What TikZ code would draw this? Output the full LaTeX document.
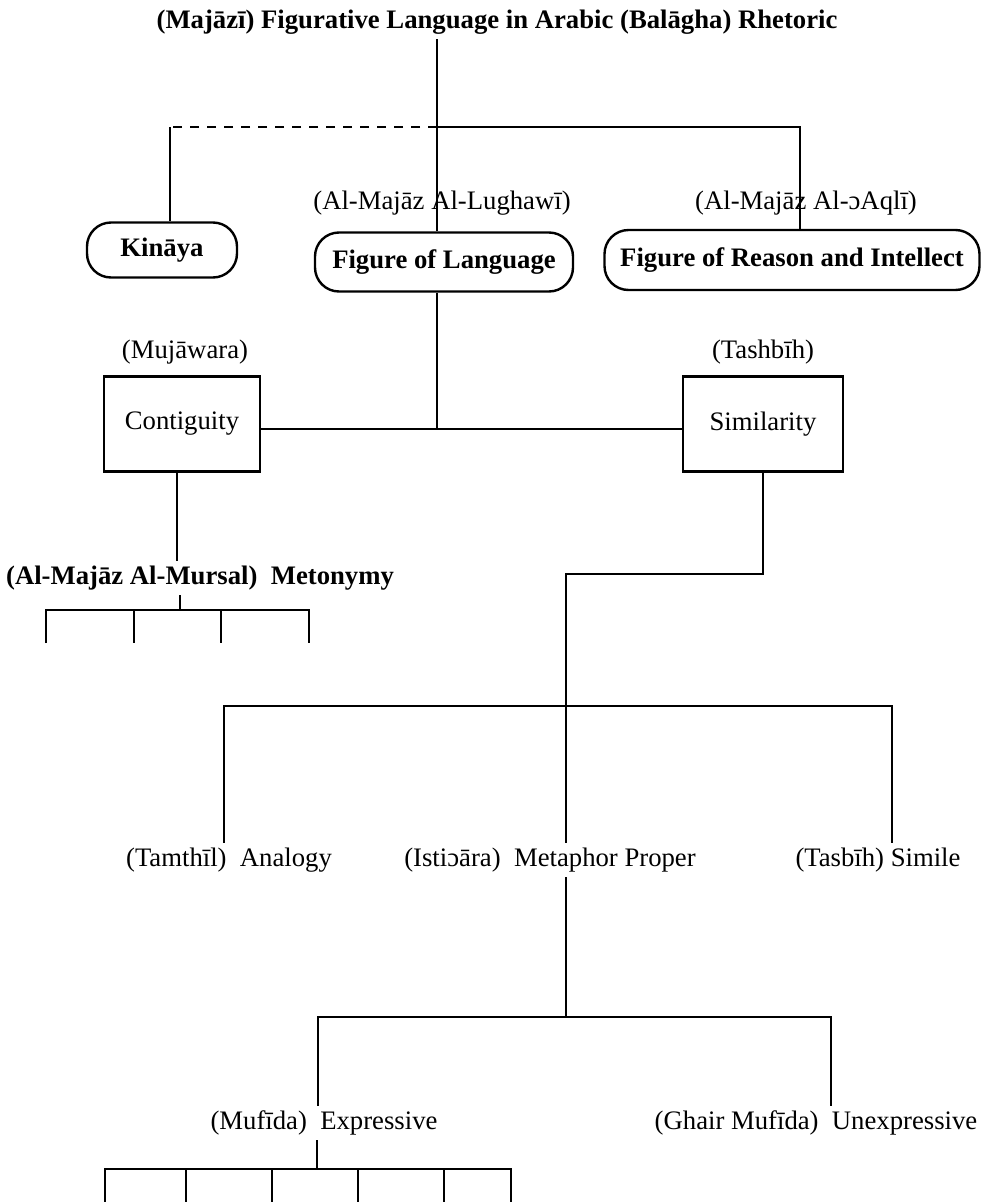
\documentclass[tikz,border=0pt]{standalone}
\usepackage{fontspec}
\setmainfont{Liberation Serif}
\usetikzlibrary{positioning}

\begin{document}
\begin{tikzpicture}[x=1pt,y=-1pt,line width=2.4pt,
  lbl/.style={inner sep=4pt,font=\fontsize{26.7}{30}\selectfont},
  blbl/.style={lbl,font=\fontsize{26.7}{30}\selectfont\bfseries},
  oval/.style n args={2}{blbl,draw,rounded corners=24pt,minimum width=#1pt,minimum height=#2pt},
  sqbox/.style n args={2}{lbl,draw,minimum width=#1pt,minimum height=#2pt}]
\useasboundingbox (0,0) rectangle (986,1202);
% top level
\node[blbl] (title) at (497,22) {(Majāzī) Figurative Language in Arabic (Balāgha) Rhetoric};
\coordinate (hub) at (437,127);
\coordinate (kl) at (170,127);
\coordinate (kr) at (800,127);
\node[oval={150}{55}] (kinaya) at (162,250) {Kināya};
\node[oval={258}{59}] (fol) at (444,262) {Figure of Language};
\node[oval={375}{60}] (for) at (792,260) {Figure of Reason and Intellect};
\node[lbl] (lugh) at (442,203) {(Al-Majāz Al-Lughawī)};
\node[lbl] (aqli) at (806,203) {(Al-Majāz Al-ɔAqlī)};
\draw (title.south -| hub) -- (fol.north -| hub);
\draw[dash pattern=on 9pt off 8pt] (hub) -- (kl);
\draw (kl) -- (kinaya.north -| kl);
\draw (hub) -- (kr) -- (for.north -| kr);
% contiguity / similarity
\node[lbl] (mujawara) at (185,352) {(Mujāwara)};
\node[sqbox={156}{95}] (contig) at (182,424) {Contiguity};
\node[lbl] (tashbih) at (763,352) {(Tashbīh)};
\node[sqbox={160}{95}] (simil) at (763,424) {Similarity};
\coordinate (mid) at (437,429);
\draw (fol.south -| mid) -- (mid);
\draw (contig.east |- mid) -- (simil.west |- mid);
% metonymy
\node[blbl] (meton) at (200,578) {(Al-Majāz Al-Mursal)~ Metonymy};
\coordinate (cs) at (177,472);
\draw (cs) -- (meton.north -| cs);
\coordinate (mt) at (180,610);
\draw (meton.south -| mt) -- (mt);
\draw (46,643) -- (46,610) -- (309,610) -- (309,643);
\foreach \x in {134,221} \draw (\x,610) -- (\x,643);
% similarity branch
\coordinate (sb) at (566,574);
\coordinate (al) at (224,706);
\coordinate (ar) at (892,706);
\node[lbl] (analogy) at (229,860) {(Tamthīl)~ Analogy};
\node[lbl] (metaphor) at (550,860) {(Istiɔāra)~ Metaphor Proper};
\node[lbl] (simile) at (878,860) {(Tasbīh) Simile};
\draw (simil.south) |- (sb) -- (metaphor.north -| sb);
\draw (analogy.north -| al) -- (al) -- (ar) -- (simile.north -| ar);
% metaphor proper
\coordinate (el) at (318,1017);
\coordinate (er) at (831,1017);
\coordinate (hub3) at (566,1017);
\node[lbl] (expr) at (324,1123) {(Mufīda)~ Expressive};
\node[lbl] (unexpr) at (816,1123) {(Ghair Mufīda)~ Unexpressive};
\draw (metaphor.south -| hub3) -- (hub3);
\draw (expr.north -| el) |- (er) -- (unexpr.north -| er);
\coordinate (xt) at (317,1169);
\draw (expr.south -| xt) -- (xt);
\draw (105,1202) -- (105,1169) -- (511,1169) -- (511,1202);
\foreach \x in {186,272,358,444} \draw (\x,1169) -- (\x,1202);
\end{tikzpicture}
\end{document}
